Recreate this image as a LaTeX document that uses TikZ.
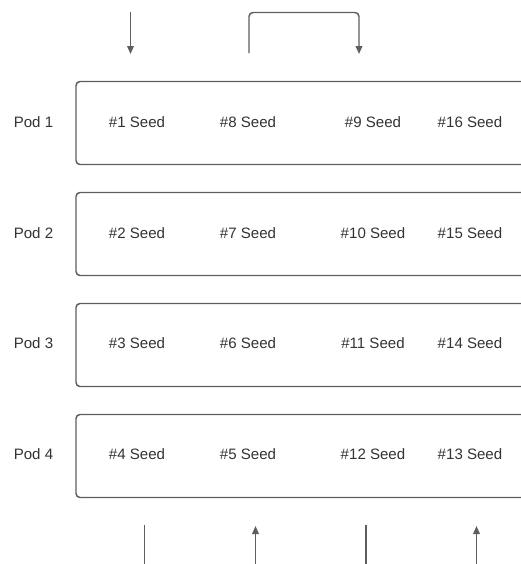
\documentclass[tikz,border=0pt]{standalone}
\usepackage{fontspec}
\setmainfont{Liberation Sans}
\usetikzlibrary{arrows.meta}
\definecolor{strokegray}{HTML}{5E5E5E}
\definecolor{textgray}{HTML}{333333}
\begin{document}
\begin{tikzpicture}[x=0.75pt,y=-0.75pt,
  podbox/.style={draw=strokegray,line width=1.1pt,rounded corners=3pt,rectangle,minimum width=345pt,minimum height=62.25pt,inner sep=0pt},
  lbl/.style={text=textgray,font=\fontsize{11.3pt}{13pt}\selectfont,inner sep=0pt},
  conn/.style={draw=strokegray,line width=1.1pt},
  arr/.style={conn,-{Triangle[length=6pt,width=5pt]}}
]
\useasboundingbox (0,0) rectangle (521,564);
\begin{scope}
\clip (0,0) rectangle (521,564);
\foreach \i/\y in {1/123,2/234,3/345,4/456}{
  \node[podbox] (box\i) at (306,\y) {};
}
\node[lbl] (p1) at (33.5,122) {Pod 1};
\node[lbl] (p2) at (33.5,233) {Pod 2};
\node[lbl] (p3) at (33.5,343) {Pod 3};
\node[lbl] (p4) at (33.5,454) {Pod 4};
\node[lbl] (s1) at (137,122) {\#1 Seed};
\node[lbl] (s8) at (248,122) {\#8 Seed};
\node[lbl] (s9) at (373,122) {\#9 Seed};
\node[lbl] (s16) at (470,122) {\#16 Seed};
\node[lbl] (s2) at (137,233) {\#2 Seed};
\node[lbl] (s7) at (248,233) {\#7 Seed};
\node[lbl] (s10) at (373,233) {\#10 Seed};
\node[lbl] (s15) at (470,233) {\#15 Seed};
\node[lbl] (s3) at (137,343) {\#3 Seed};
\node[lbl] (s6) at (248,343) {\#6 Seed};
\node[lbl] (s11) at (373,343) {\#11 Seed};
\node[lbl] (s14) at (470,343) {\#14 Seed};
\node[lbl] (s4) at (137,454) {\#4 Seed};
\node[lbl] (s5) at (248,454) {\#5 Seed};
\node[lbl] (s12) at (373,454) {\#12 Seed};
\node[lbl] (s13) at (470,454) {\#13 Seed};
% top connectors
\coordinate (a1s) at (130.5,12);
\coordinate (a1e) at (130.5,54);
\draw[arr] (a1s) -- (a1e);
\coordinate (b1s) at (249,53);
\coordinate (b1e) at (359,54);
\draw[arr,rounded corners=3pt] (b1s) -- (249,12.5) -- (359,12.5) -- (b1e);
% bottom connectors
\coordinate (c1s) at (144.5,525);
\coordinate (c1e) at (144.5,570);
\draw[conn] (c1s) -- (c1e);
\coordinate (c2s) at (255.5,570);
\coordinate (c2e) at (255.5,526);
\draw[arr] (c2s) -- (c2e);
\coordinate (c3s) at (366,525);
\coordinate (c3e) at (366,570);
\draw[conn] (c3s) -- (c3e);
\coordinate (c4s) at (476.5,570);
\coordinate (c4e) at (476.5,526);
\draw[arr] (c4s) -- (c4e);
\end{scope}
\end{tikzpicture}
\end{document}
